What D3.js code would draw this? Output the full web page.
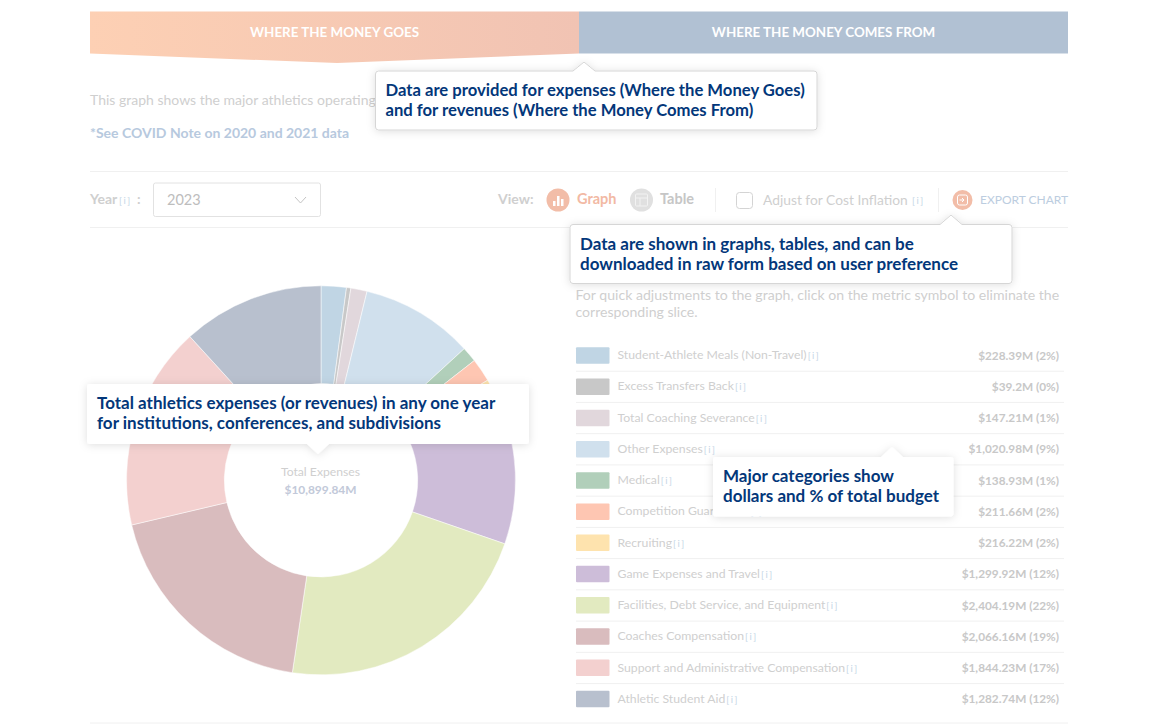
<!DOCTYPE html>
<html>
<head>
<meta charset="utf-8">
<script src="https://cdn.jsdelivr.net/npm/d3@7"></script>
<style>
  html, body { margin: 0; padding: 0; background: #fff; overflow: hidden; }
  svg { display: block; font-family: Lato, "Open Sans", sans-serif; }
  .tip { fill: #03377a; font-size: 17px; font-weight: 700; }
  .faint { fill: #cfcfcf; font-size: 13px; }
  .hint { fill: #c5d6e6; font-size: 9.5px; letter-spacing: 1.5px; }
</style>
</head>
<body>
<script>
// Chart data, 2023 expenses
var categories = [
  "Student-Athlete Meals (Non-Travel)", "Excess Transfers Back", "Total Coaching Severance",
  "Other Expenses", "Medical", "Competition Guarantees", "Recruiting", "Game Expenses and Travel",
  "Facilities, Debt Service, and Equipment", "Coaches Compensation",
  "Support and Administrative Compensation", "Athletic Student Aid"
];
var amounts = [228.39, 39.2, 147.21, 1020.98, 138.93, 211.66, 216.22, 1299.92, 2404.19, 2066.16, 1844.23, 1282.74];
var shares = [2, 0, 1, 9, 1, 2, 2, 12, 22, 19, 17, 12];
var sliceColors = [
  "#c0d5e4", "#c8c8c8", "#e1d7dc", "#d0e0ed", "#b1cfba", "#fec6b2",
  "#fee3ae", "#cdbdd9", "#e2eac0", "#d9bcbe", "#f3d0cf", "#b8c0ce"
];

// Width and height
var w = 1160;
var h = 724;

var svg = d3.select("body")
  .append("svg")
  .attr("width", w)
  .attr("height", h);

var defs = svg.append("defs");

var grad = defs.append("linearGradient").attr("id", "goes");
grad.append("stop").attr("offset", "0%").attr("stop-color", "#fdd0b4");
grad.append("stop").attr("offset", "100%").attr("stop-color", "#f1c3b3");

var shadow = defs.append("filter")
  .attr("id", "soft")
  .attr("x", "-10%").attr("y", "-30%")
  .attr("width", "120%").attr("height", "170%");
shadow.append("feDropShadow")
  .attr("dx", 0).attr("dy", 1)
  .attr("stdDeviation", 4)
  .attr("flood-color", "#000")
  .attr("flood-opacity", 0.13);

function line(x1, y1, x2, y2, color) {
  svg.append("line")
    .attr("x1", x1).attr("y1", y1)
    .attr("x2", x2).attr("y2", y2)
    .attr("stroke", color || "#f0f0f0");
}

function label(x, y, str, cls, anchor) {
  return svg.append("text")
    .attr("x", x).attr("y", y)
    .attr("class", cls || "faint")
    .attr("text-anchor", anchor || "start")
    .text(str);
}

// Top banner
svg.append("path")
  .attr("d", "M90,11.5H579V53.5L337,63L90,53.5Z")
  .attr("fill", "url(#goes)");
svg.append("rect")
  .attr("x", 579).attr("y", 11.5)
  .attr("width", 489).attr("height", 42)
  .attr("fill", "#b1c1d3");
label(334.5, 37, "WHERE THE MONEY GOES", "faint", "middle")
  .style("fill", "#fff").style("font-size", "13.4px").style("font-weight", 700);
label(823.5, 37, "WHERE THE MONEY COMES FROM", "faint", "middle")
  .style("fill", "#fff").style("font-size", "13.4px").style("font-weight", 700);

// Intro text
label(90, 105, "This graph shows the major athletics operating").style("font-size", "14px");
label(90, 138, "*See COVID Note on 2020 and 2021 data")
  .style("fill", "#b7c9de").style("font-size", "14px").style("font-weight", 700);

// Controls row
line(90, 171.5, 1068, 171.5);
line(90, 227.5, 1068, 227.5);

label(90, 204, "Year").style("font-size", "14px").style("font-weight", 700);
label(119, 204, "[i]", "hint");
label(137, 204, ":").style("font-size", "14px").style("font-weight", 700);

svg.append("rect")
  .attr("x", 153.5).attr("y", 183)
  .attr("width", 167).attr("height", 33.5)
  .attr("rx", 2)
  .attr("fill", "#fff")
  .attr("stroke", "#e2e2e2");
label(167, 204.5, "2023").style("font-size", "14.5px").style("fill", "#bdbdbd");
svg.append("path")
  .attr("d", "M295,197L300.5,203L306,197")
  .attr("fill", "none")
  .attr("stroke", "#c4c4c4");

label(498, 204, "View:").style("font-size", "14px").style("font-weight", 700);

svg.append("circle").attr("cx", 558).attr("cy", 200).attr("r", 11.5).attr("fill", "#f2bda8");
svg.selectAll("rect.bar-icon")
  .data([[553, 201, 8], [557, 196, 13], [561, 199, 10]])
  .enter()
  .append("rect")
  .attr("class", "bar-icon")
  .attr("x", function(d) { return d[0]; })
  .attr("y", function(d) { return d[1]; })
  .attr("width", 2.5)
  .attr("height", function(d) { return d[2] - 3; })
  .attr("fill", "#fff");
label(577, 204, "Graph").style("fill", "#f2b9a4").style("font-size", "14.5px").style("font-weight", 700);

svg.append("circle").attr("cx", 641.5).attr("cy", 200).attr("r", 11.5).attr("fill", "#e0e0e0");
svg.append("rect")
  .attr("x", 635.5).attr("y", 194)
  .attr("width", 12).attr("height", 12)
  .attr("rx", 1)
  .attr("fill", "none")
  .attr("stroke", "#f2f2f2");
line(635.5, 198, 647.5, 198, "#f2f2f2");
line(640, 198, 640, 206, "#f2f2f2");
label(660, 204, "Table").style("fill", "#c6c6c6").style("font-size", "14.5px").style("font-weight", 700);

line(715.5, 188, 715.5, 212);
svg.append("rect")
  .attr("x", 736.5).attr("y", 192.5)
  .attr("width", 16).attr("height", 16)
  .attr("rx", 3)
  .attr("fill", "#fff")
  .attr("stroke", "#d4d4d4");
label(763, 205, "Adjust for Cost Inflation").style("font-size", "13.8px");
label(912, 204, "[i]", "hint");
line(938.5, 188, 938.5, 212);

svg.append("circle").attr("cx", 962.5).attr("cy", 200).attr("r", 10).attr("fill", "#f2bda8");
svg.append("rect")
  .attr("x", 957.5).attr("y", 195)
  .attr("width", 10).attr("height", 10)
  .attr("rx", 2)
  .attr("fill", "none")
  .attr("stroke", "#fff");
svg.append("path")
  .attr("d", "M959.5,200H964M962,198L964,200L962,202")
  .attr("fill", "none")
  .attr("stroke", "#fff");
label(980, 204, "EXPORT CHART").style("fill", "#bccde0").style("font-size", "12px");

// Define arc and pie generators for the donut
var cx = 321;
var cy = 480.3;

var pie = d3.pie()
  .sort(null)
  .value(function(d) { return d; });

var arc = d3.arc()
  .innerRadius(96.7)
  .outerRadius(194.5);

var color = d3.scaleOrdinal()
  .domain(categories)
  .range(sliceColors);

var donut = svg.append("g")
  .attr("transform", "translate(" + cx + "," + cy + ")");

donut.selectAll("path")
  .data(pie(amounts))
  .enter()
  .append("path")
  .attr("d", arc)
  .attr("fill", function(d, i) { return color(categories[i]); })
  .attr("stroke", "#fff")
  .attr("stroke-width", 0.5);

label(320.5, 476, "Total Expenses", "faint", "middle").style("font-size", "12.2px");
label(320.5, 494, "$10,899.84M", "faint", "middle")
  .style("fill", "#c2c9d9").style("font-size", "11.9px").style("font-weight", 700);

// Legend table
label(575.5, 300, "For quick adjustments to the graph, click on the metric symbol to eliminate the").style("font-size", "14.1px");
label(575.5, 317, "corresponding slice.").style("font-size", "14.1px");

var rowY = d3.scalePoint()
  .domain(categories)
  .range([355.2, 698.8]);

var rows = svg.selectAll("g.row")
  .data(categories)
  .enter()
  .append("g")
  .attr("class", "row")
  .attr("transform", function(d) { return "translate(0," + rowY(d) + ")"; });

rows.append("rect")
  .attr("x", 576)
  .attr("y", -8)
  .attr("width", 33.5)
  .attr("height", 16.5)
  .attr("rx", 1)
  .attr("fill", function(d) { return color(d); });

var names = rows.append("text")
  .attr("x", 617.5)
  .attr("y", 4)
  .attr("class", "faint")
  .style("font-size", "12.25px")
  .text(function(d) { return d; });
names.append("tspan")
  .attr("class", "hint")
  .attr("dx", 1)
  .text("[i]");

rows.append("text")
  .attr("x", 1059)
  .attr("y", 4.5)
  .attr("text-anchor", "end")
  .attr("class", "faint")
  .style("font-size", "11.8px")
  .style("font-weight", 700)
  .style("fill", "#c8c8c8")
  .text(function(d, i) {
    return "$" + d3.format(",")(amounts[i]) + "M (" + shares[i] + "%)";
  });

rows.filter(function(d, i) { return i < categories.length - 1; })
  .append("line")
  .attr("x1", 576)
  .attr("x2", 1064)
  .attr("y1", 16)
  .attr("y2", 16)
  .attr("stroke", "#f0f0f0");

line(90, 723, 1068, 723);

// Callout boxes drawn on top of everything
function callout(x0, y0, x1, y1, tipX, tipY, lines, bordered, size) {
  var d = "M" + (x0 + 3) + "," + y0 +
    "H" + (tipX - 11) + "L" + tipX + "," + tipY + "L" + (tipX + 11) + "," + y0 +
    "H" + (x1 - 3) + "Q" + x1 + "," + y0 + " " + x1 + "," + (y0 + 3) +
    "V" + (y1 - 3) + "Q" + x1 + "," + y1 + " " + (x1 - 3) + "," + y1;
  if (tipY > y1) {
    d = "M" + (x0 + 3) + "," + y0 + "H" + (x1 - 3) +
      "Q" + x1 + "," + y0 + " " + x1 + "," + (y0 + 3) +
      "V" + (y1 - 3) + "Q" + x1 + "," + y1 + " " + (x1 - 3) + "," + y1 +
      "H" + (tipX + 11) + "L" + tipX + "," + tipY + "L" + (tipX - 11) + "," + y1;
  }
  d += "H" + (x0 + 3) + "Q" + x0 + "," + y1 + " " + x0 + "," + (y1 - 3) +
    "V" + (y0 + 3) + "Q" + x0 + "," + y0 + " " + (x0 + 3) + "," + y0 + "Z";

  svg.append("path")
    .attr("d", d)
    .attr("fill", "#fff")
    .attr("stroke", bordered ? "#d6d6d6" : "none")
    .attr("filter", "url(#soft)");

  lines.forEach(function(str, i) {
    var t = label(x0 + 10, y0 + 25 + i * 20, str, "tip");
    if (size) t.style("font-size", size + "px");
  });
}

callout(375.5, 71, 817, 130, 584, 62, [
  "Data are provided for expenses (Where the Money Goes)",
  "and for revenues (Where the Money Comes From)"
], true, 16.65);

callout(570, 224.5, 1012, 283.5, 951, 215, [
  "Data are shown in graphs, tables, and can be",
  "downloaded in raw form based on user preference"
], true);

callout(713, 457, 953.5, 516.5, 892, 447, [
  "Major categories show",
  "dollars and % of total budget"
], false);

callout(87, 384, 529, 444, 318, 454, [
  "Total athletics expenses (or revenues) in any one year",
  "for institutions, conferences, and subdivisions"
], false);
</script>
</body>
</html>
